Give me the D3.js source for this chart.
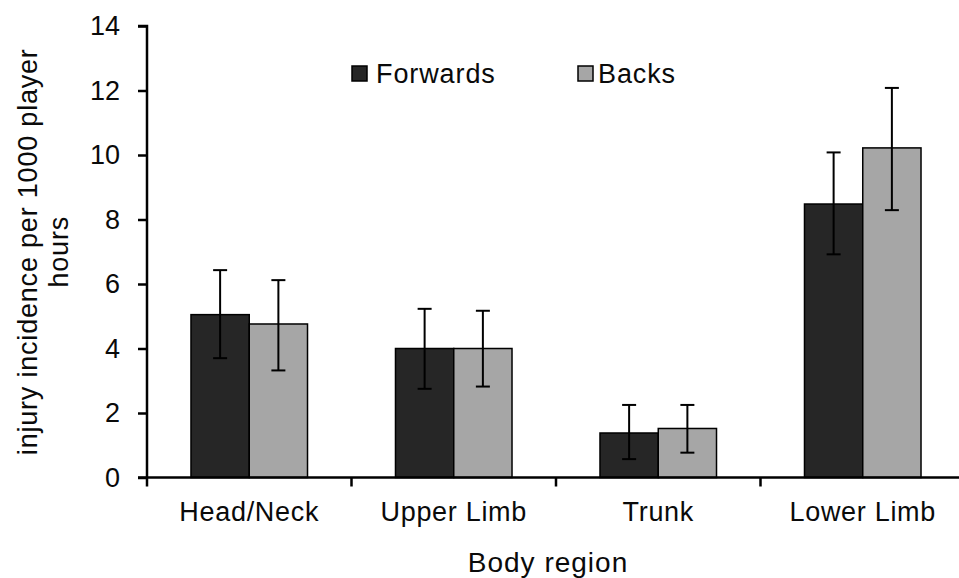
<!DOCTYPE html>
<html>
<head>
<meta charset="utf-8">
<script src="https://cdn.jsdelivr.net/npm/d3@7"></script>
<style>
  html, body { margin: 0; padding: 0; background: #fff; }
  svg { display: block; }
  text { font-family: "Liberation Sans", Arial, sans-serif; fill: #0a0a0a; }
</style>
</head>
<body>
<svg id="chart" width="959" height="578"></svg>
<script>
const categories = ["Head/Neck", "Upper Limb", "Trunk", "Lower Limb"];
const seriesNames = ["Forwards", "Backs"];
const forwards = [5.05, 4.0, 1.38, 8.48];
const forwardsLow = [3.70, 2.75, 0.57, 6.92];
const forwardsHigh = [6.43, 5.23, 2.25, 10.08];
const backs = [4.76, 4.0, 1.52, 10.22];
const backsLow = [3.32, 2.82, 0.77, 8.29];
const backsHigh = [6.12, 5.17, 2.25, 12.08];
const yTicks = [0, 2, 4, 6, 8, 10, 12, 14];

const colors = { Forwards: "#262626", Backs: "#a6a6a6" };

const svg = d3.select("#chart");
const mLeft = 147, mRight = 965, mTop = 26, mBottom = 477.5;

const x0 = d3.scaleBand().domain(categories).range([mLeft, mRight]).paddingInner(0).paddingOuter(0);
const x1 = d3.scaleBand().domain(seriesNames).range([0, x0.bandwidth()]).paddingInner(0).paddingOuter(0.755);
const y = d3.scaleLinear().domain([0, 14]).range([mBottom, mTop]);

const data = categories.map((c, i) => ({
  cat: c,
  vals: [
    { s: "Forwards", v: forwards[i], lo: forwardsLow[i], hi: forwardsHigh[i] },
    { s: "Backs", v: backs[i], lo: backsLow[i], hi: backsHigh[i] }
  ]
}));

// bars
const g = svg.append("g");
const groups = g.selectAll("g.cat").data(data).join("g")
  .attr("class", "cat")
  .attr("transform", d => `translate(${x0(d.cat)},0)`);
groups.selectAll("rect").data(d => d.vals).join("rect")
  .attr("x", d => x1(d.s))
  .attr("y", d => y(d.v))
  .attr("width", x1.bandwidth())
  .attr("height", d => y(0) - y(d.v))
  .attr("fill", d => colors[d.s])
  .attr("stroke", "#000")
  .attr("stroke-width", 1.5);

// error bars
const capW = 7;
groups.selectAll("g.err").data(d => d.vals).join("g")
  .attr("class", "err")
  .each(function(d) {
    const cx = x1(d.s) + x1.bandwidth() / 2;
    const e = d3.select(this);
    e.append("line").attr("x1", cx).attr("x2", cx).attr("y1", y(d.lo)).attr("y2", y(d.hi))
      .attr("stroke", "#000").attr("stroke-width", 2);
    [d.lo, d.hi].forEach(v => {
      e.append("line").attr("x1", cx - capW).attr("x2", cx + capW).attr("y1", y(v)).attr("y2", y(v))
        .attr("stroke", "#000").attr("stroke-width", 2);
    });
  });

// y axis
const yAxis = d3.axisLeft(y).tickValues(yTicks).tickSize(9).tickPadding(18).tickFormat(d3.format("d"));
const ya = svg.append("g").attr("transform", `translate(${mLeft},0)`).call(yAxis);
ya.select(".domain").attr("stroke", "#000").attr("stroke-width", 2.5).attr("d", `M-9,${mTop}H0V${mBottom}`);
ya.selectAll(".tick line").attr("stroke", "#000").attr("stroke-width", 2.5);
ya.selectAll(".tick text").attr("font-size", 27).attr("font-family", "Liberation Sans, Arial, sans-serif").attr("fill", "#0a0a0a");

// x axis
const xAxis = d3.axisBottom(x0).tickSize(0).tickPadding(0);
const xa = svg.append("g").attr("transform", `translate(0,${mBottom})`).call(xAxis);
xa.select(".domain").attr("stroke", "#000").attr("stroke-width", 2.5).attr("d", `M${mLeft - 9},0H959`);
xa.selectAll(".tick text").attr("font-size", 27).attr("letter-spacing", 0.7)
  .attr("font-family", "Liberation Sans, Arial, sans-serif").attr("fill", "#0a0a0a")
  .attr("dy", null).attr("y", 43.5);
// category boundary ticks
const bounds = categories.map(c => x0(c)).concat([x0(categories[categories.length - 1]) + x0.bandwidth()]);
xa.selectAll("line.bound").data(bounds.filter(b => b <= 959)).join("line")
  .attr("class", "bound")
  .attr("x1", d => d).attr("x2", d => d).attr("y1", 0).attr("y2", 9)
  .attr("stroke", "#000").attr("stroke-width", 2.5);

// axis titles
svg.append("text").attr("x", 548).attr("y", 572).attr("text-anchor", "middle")
  .attr("font-size", 28).attr("letter-spacing", 1).text("Body region");
const yl = svg.append("text").attr("transform", `translate(36.5,${(mTop + mBottom) / 2}) rotate(-90)`)
  .attr("text-anchor", "middle").attr("font-size", 27).attr("letter-spacing", 0.8);
yl.append("tspan").attr("x", 0).attr("y", 0).text("injury incidence per 1000 player");
yl.append("tspan").attr("x", 0).attr("y", 31.5).text("hours");

// legend
const legendPos = { Forwards: { sx: 352, tx: 376 }, Backs: { sx: 578, tx: 598 } };
seriesNames.forEach(s => {
  const p = legendPos[s];
  svg.append("rect").attr("x", p.sx).attr("y", 66).attr("width", 15).attr("height", 15)
    .attr("fill", colors[s]).attr("stroke", "#000").attr("stroke-width", 1.5);
  svg.append("text").attr("x", p.tx).attr("y", 82.5).attr("font-size", 27).attr("letter-spacing", 0.9).text(s);
});
</script>
</body>
</html>
